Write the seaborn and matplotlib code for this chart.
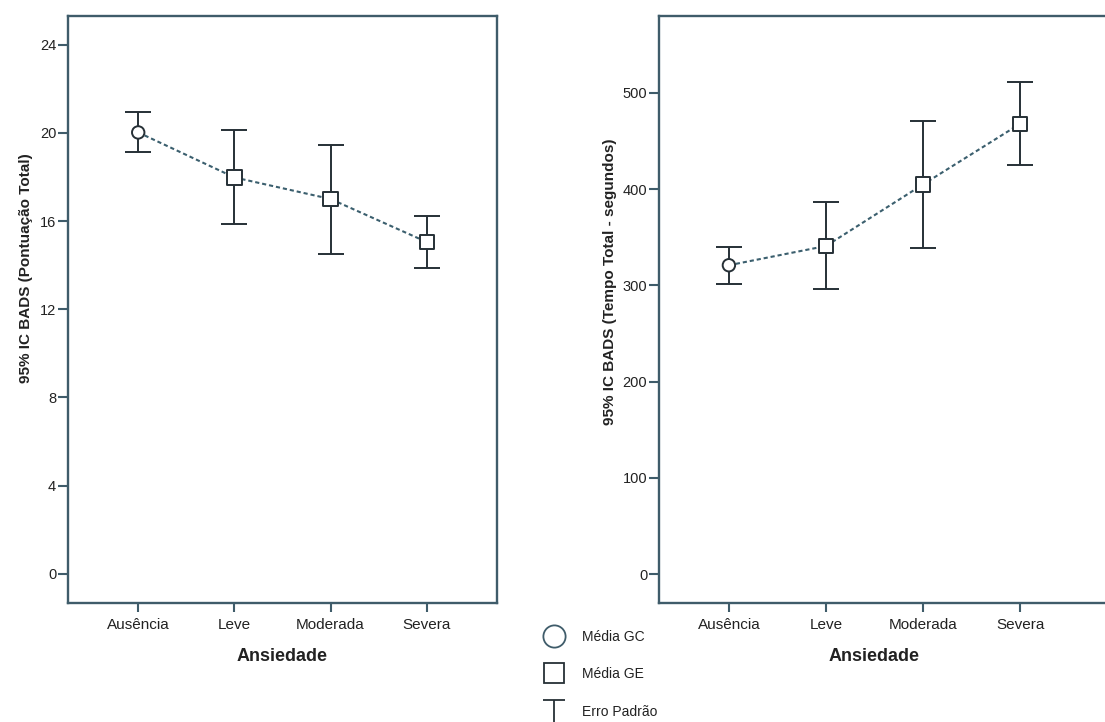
import numpy as np
import pandas as pd
import matplotlib
matplotlib.use("Agg")
import matplotlib.pyplot as plt
import matplotlib.transforms as mtransforms
from matplotlib.lines import Line2D
from matplotlib.path import Path
import seaborn as sns

# dados
categorias = ["Ausência", "Leve", "Moderada", "Severa"]
grupos = ["GC", "GE", "GE", "GE"]

pont_media = [20.02, 17.98, 17.0, 15.05]
pont_inf = [19.15, 15.87, 14.52, 13.87]
pont_sup = [20.94, 20.13, 19.47, 16.23]

tempo_media = [321, 341, 405, 468]
tempo_inf = [302, 296, 339, 425]
tempo_sup = [340, 387, 471, 511]

pont_ticks = [0, 4, 8, 12, 16, 20, 24]
tempo_ticks = [0, 100, 200, 300, 400, 500]

sns.set_style("ticks")
plt.rcParams["font.family"] = ["Liberation Sans", "DejaVu Sans"]

SPINE = "#3f5c6a"
BAR = "#263036"
LINE = "#3b5f6e"
TXT = "#222222"


def painel(ax, media, inf, sup, ticks, ylim, xlim, ylabel):
    df = pd.DataFrame({"categoria": categorias, "grupo": grupos,
                       "media": media, "inf": inf, "sup": sup})
    err = np.vstack([df["media"] - df["inf"], df["sup"] - df["media"]])
    ax.errorbar(df["categoria"], df["media"], yerr=err, fmt="none",
                ecolor=BAR, elinewidth=1.4, capsize=9.5, capthick=1.4, zorder=2)
    sns.lineplot(data=df, x="categoria", y="media", ax=ax, color=LINE,
                 linewidth=1.5, linestyle=(0, (2, 1.4)), zorder=3, sort=False)
    sns.scatterplot(data=df, x="categoria", y="media", style="grupo",
                    markers={"GC": "o", "GE": "s"}, size="grupo",
                    sizes={"GC": 80, "GE": 105}, color="white",
                    edgecolor=BAR, linewidth=1.4, ax=ax, legend=False, zorder=4)
    ax.set_xlim(*xlim)
    ax.set_ylim(*ylim)
    ax.set_yticks(ticks)
    for s in ax.spines.values():
        s.set_color(SPINE)
        s.set_linewidth(1.7)
    ax.tick_params(axis="both", colors=SPINE, width=1.5, labelcolor=TXT)
    ax.tick_params(axis="y", length=7.5, pad=1, labelsize=10.5)
    ax.tick_params(axis="x", length=6.5, pad=4, labelsize=11)
    ax.set_ylabel(ylabel, fontsize=11, fontweight="bold", color=TXT)
    ax.set_xlabel("Ansiedade", fontsize=13, fontweight="bold", color=TXT)
    ax.grid(False)


fig = plt.figure(figsize=(11.05, 7.22), dpi=100)
W, H = 1105, 722

ax1 = fig.add_axes([68 / W, (H - 603) / H, 429 / W, 587 / H])
ax2 = fig.add_axes([659 / W, (H - 603) / H, 466 / W, 587 / H])

painel(ax1, pont_media, pont_inf, pont_sup, pont_ticks, (-1.32, 25.3),
       (-0.73, 3.73), "95% IC BADS (Pontuação Total)")
painel(ax2, tempo_media, tempo_inf, tempo_sup, tempo_ticks, (-30, 580),
       (-0.72, 4.08), "95% IC BADS (Tempo Total - segundos)")

ax1.yaxis.set_label_coords((33 - 68) / 429, (603 - 268) / 587)
ax2.yaxis.set_label_coords((617 - 659) / 466, (603 - 282) / 587)
ax1.xaxis.set_label_coords(0.5, (603 - 648) / 587)
ax2.xaxis.set_label_coords(
    1.5, (603 - 648) / 587,
    transform=mtransforms.blended_transform_factory(ax2.transData, ax2.transAxes))

# legenda
t_marker = Path([(-1, 1), (1, 1), (0, 1), (0, -1.6)],
                [Path.MOVETO, Path.LINETO, Path.MOVETO, Path.LINETO])
handles = [
    Line2D([], [], ls="none", marker="o", ms=16, mfc="none", mec=SPINE, mew=1.3),
    Line2D([], [], ls="none", marker="s", ms=15, mfc="none", mec=BAR, mew=1.3),
    Line2D([], [], ls="none", marker=t_marker, ms=25, mfc="none", mec=BAR, mew=1.3),
]
fig.legend(handles, ["Média GC", "Média GE", "Erro Padrão"],
           loc="upper left", bbox_to_anchor=(543 / W, (H - 630) / H),
           frameon=False, fontsize=10, labelspacing=1.68, handlelength=1.6,
           handletextpad=1.2, borderpad=0, borderaxespad=0, labelcolor=TXT)

fig.savefig("out.png", dpi=100)
